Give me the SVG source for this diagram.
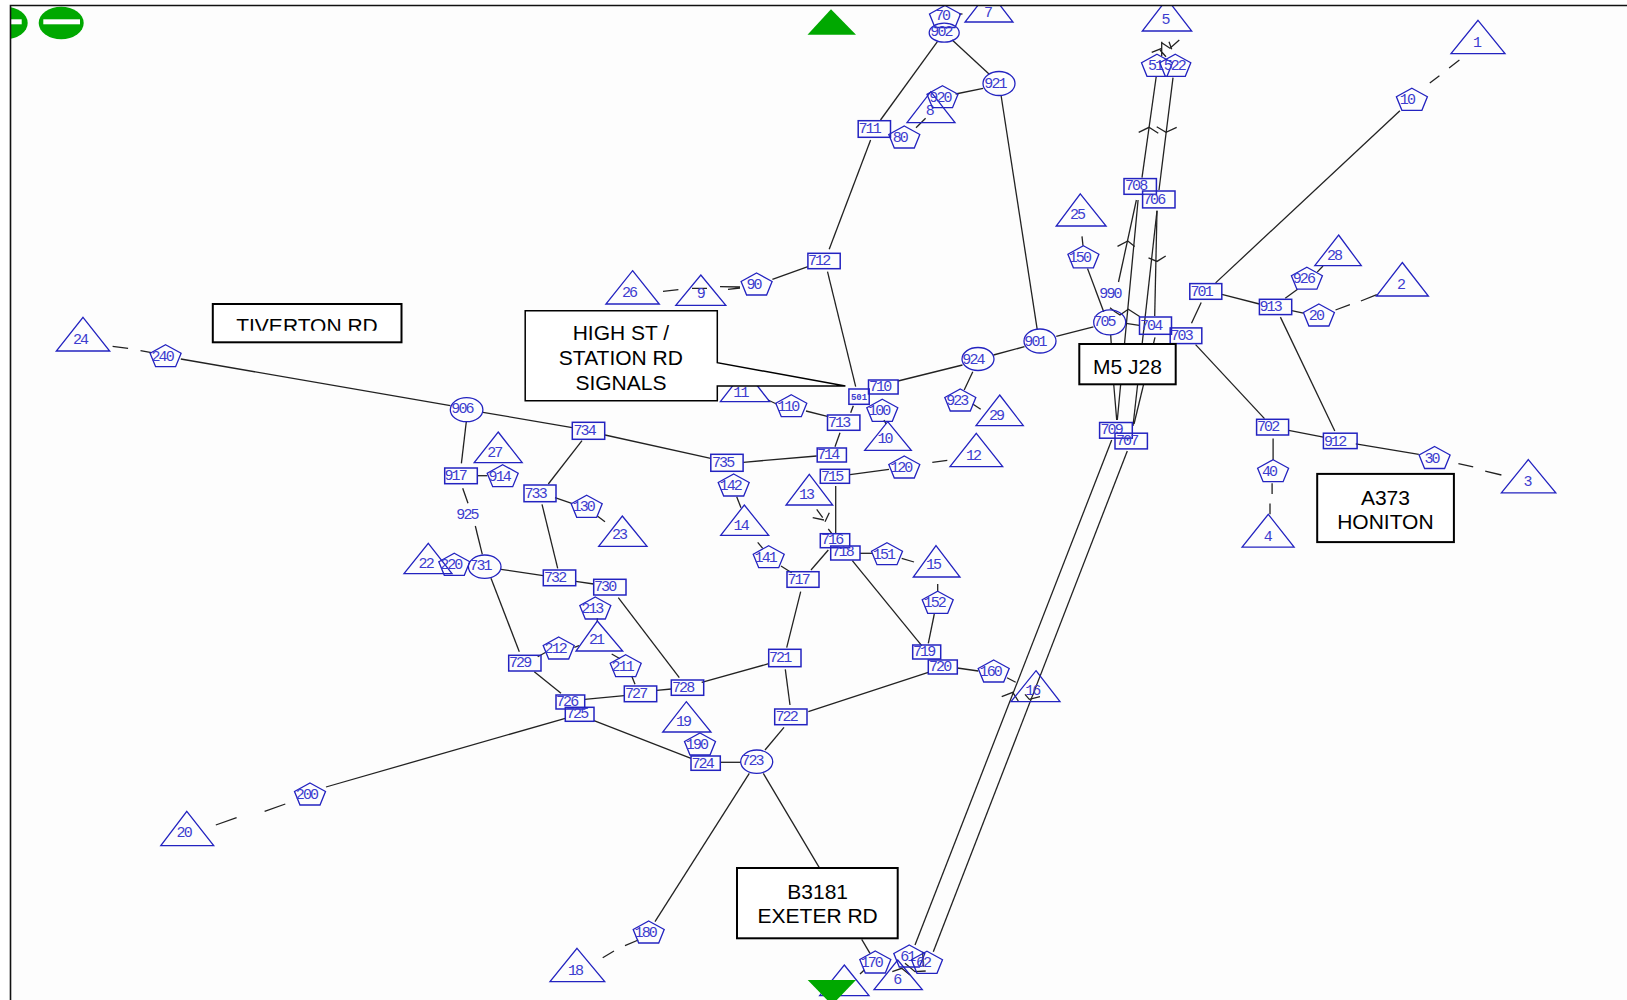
<svg xmlns="http://www.w3.org/2000/svg" width="1627" height="1000" viewBox="0 0 1627 1000">
<style>
.b{fill:none;stroke:#2323c0;stroke-width:1.5}
.t{fill:none;stroke:#2323c0;stroke-width:1.3}
.l{font-family:"Liberation Mono",monospace;font-size:15px;letter-spacing:-1.9px;fill:#3c3ccf}
.m{text-anchor:middle}
.k{font-family:"Liberation Sans",Arial,sans-serif;font-size:21px;fill:#000;text-anchor:middle}
.x{fill:#fff;stroke:#000;stroke-width:2}
.g{fill:#00a800}
</style>
<defs>
<polygon id="pent" class="t" points="0,-11 15.5,-2.5 10,11 -10,11 -15.5,-2.5"/>
<clipPath id="tivclip"><rect x="214" y="305" width="186" height="25.8"/></clipPath>
</defs>
<rect x="0" y="0" width="1627" height="1000" fill="#fff"/>
<rect x="10" y="5" width="1617" height="995" fill="#fdfdfd"/>
<g id="connectors" fill="none" stroke="#222" stroke-width="1.3">
<path d="M112.6 346.3L128.1 348.3M140.5 350.7L151.5 352.7"/>
<path d="M180.8 359L450.4 405.7"/>
<path d="M483 412.3L572.3 427.7"/>
<path d="M605 435L710.7 458.3"/>
<path d="M743.3 462.3L816.7 456"/>
<path d="M466.3 421.7L461.4 463.3"/>
<path d="M462.7 488.3L468 503.3"/>
<path d="M475.3 526L482.3 554.3"/>
<path d="M477.3 475.7L487.3 475.7"/>
<path d="M582 440.7L548.3 484"/>
<path d="M555 497.7L571.7 503.3"/>
<path d="M597.3 516L605 521.7"/>
<path d="M542 504.3L557.7 568.3"/>
<path d="M501 569.3L543.3 575.7"/>
<path d="M575.7 581.3L593.7 584"/>
<path d="M618.3 597.7L679.3 677.7"/>
<path d="M491 578.3L519.3 651.7"/>
<path d="M537.7 656.7L546.7 651.7"/>
<path d="M574.3 647.3L579 645.7"/>
<path d="M597.3 618.3L597.3 621.7"/>
<path d="M611.7 654L620 658.7"/>
<path d="M631.7 676L635 684.3"/>
<path d="M534.3 671.7L561 693.3"/>
<path d="M584.7 699.3L624.3 695.7"/>
<path d="M656.7 690.3L671.3 689"/>
<path d="M701.7 682.3L768.7 663.7"/>
<path d="M786.7 647.7L800.7 591.7"/>
<path d="M785.3 669.3L790 705"/>
<path d="M808.3 711.7L928.3 672.3"/>
<path d="M784 727.3L765 750"/>
<path d="M594 720.7L691 758.3"/>
<path d="M720.3 762.3L740.7 762.3"/>
<path d="M565.3 718.3L326 787"/>
<path d="M285.3 804L264.6 811.4M236.6 817.6L215.8 825"/>
<path d="M749.3 773.3L655 921.7"/>
<path d="M638.3 940L625 945.7M614 951L602.7 957.7"/>
<path d="M763.3 773.3L819.3 867.7"/>
<path d="M861.7 939.3L870 953.3"/>
<path d="M864.3 970L860 974"/>
<path d="M835.7 486L835.7 533.3"/>
<path d="M850 474.7L889 469.3"/>
<path d="M932.3 462.3L947.3 460.3"/>
<path d="M835 446.7L840 432.7"/>
<path d="M850.7 412.7L853.3 405.7"/>
<path d="M828.3 416.7L806 411"/>
<path d="M768 400L776.5 404"/>
<path d="M827.5 271.7L855.7 386.7"/>
<path d="M829.2 249.3L870.6 140"/>
<path d="M880.5 120L937.4 41.7"/>
<path d="M952.2 40L989 74"/>
<path d="M983.2 88.3L955.6 94"/>
<path d="M1001 95L1037.2 329.3"/>
<path d="M1056.2 336.4L1093.4 326.8"/>
<path d="M1024.5 346.7L993.5 355"/>
<path d="M962.5 365L898 381"/>
<path d="M972.8 371.7L964.2 390"/>
<path d="M972.7 404L980.7 409.3"/>
<path d="M884 420L886 424"/>
<path d="M916 127.7L925.6 118.3"/>
<path d="M772.4 279.3L807.9 266.7"/>
<path d="M663 291.3L678.4 289.7M692 288.3L707 288.3M720 286.7L740 287M728 289.3L740 288"/>
<path d="M736.7 496.7L741 507.7"/>
<path d="M757.7 542.3L762.7 548.3"/>
<path d="M781 566L791.7 572.7"/>
<path d="M811 570L828.3 550"/>
<path d="M860 553.3L872.3 553.3"/>
<path d="M901.7 558.3L914 562"/>
<path d="M937.7 584L937.7 591.7"/>
<path d="M934.3 614L928.3 643.3"/>
<path d="M852.3 560.7L921.7 645.7"/>
<path d="M957.3 668L978.3 671"/>
<path d="M1007 677.7L1015.7 682.3"/>
<path d="M816.7 509.3L822.7 517.7M829.3 512.7L825 521.7M812.7 517.7L824 520M828.3 529L831.7 533.3"/>
<path d="M1156.3 76L1142 177.7"/>
<path d="M1173 77.7L1159 190"/>
<path d="M1138.7 132.3L1149 127.3L1158.3 133.3M1156.7 126.7L1166 132.3L1176.7 127.3"/>
<path d="M1161.7 41.7L1161.7 56M1151.7 52.3L1161.7 48.3M1161.7 42.7L1170 48.3L1179.3 40M1169 41.7L1171.7 49.3M1160 50L1166 56.7"/>
<path d="M1138.1 200L1117.3 420"/>
<path d="M1136.4 200L1118.5 282"/>
<path d="M1117.5 246.4L1127.8 241L1134.7 246.4"/>
<path d="M1157 210.7L1133 426"/>
<path d="M1157 210.7L1154.7 316"/>
<path d="M1148.5 257.9L1157 261.4L1165.7 256"/>
<path d="M1155 337.3L1134 424"/>
<path d="M1110.7 335L1113.7 384L1116.7 420"/>
<path d="M1110 307.7L1115 311.7L1120 315L1128.3 309.3L1140 316.7"/>
<path d="M1126 323.3L1139.3 325.3"/>
<path d="M1111.7 440L915 945"/>
<path d="M1127.3 451L933.3 951.7"/>
<path d="M1001.7 696.7L1012.7 692.3L1018.3 701M1025 694.3L1029.3 699.3L1040 696.7"/>
<path d="M892.3 971.7L901.7 968.3L910 975M905 963.3L915 971.7L925.7 971M922.7 951.7L923.3 966.7"/>
<path d="M1215.6 282.9L1399.9 110.7"/>
<path d="M1429.8 82.9L1439.4 75.7M1449.1 67.9L1459.4 60"/>
<path d="M1201.2 302.5L1191.5 323.2"/>
<path d="M1221.8 294.3L1259.4 304"/>
<path d="M1285.2 298.2L1297.6 289.3"/>
<path d="M1317.2 272.1L1323 266"/>
<path d="M1291.7 310.7L1303.4 313.2"/>
<path d="M1335.5 310L1349.9 304.6M1360.9 301L1376.8 294.6"/>
<path d="M1280.4 317.1L1334.8 431"/>
<path d="M1195.6 344.6L1264.5 418.6"/>
<path d="M1288.6 430.4L1323.4 437.1"/>
<path d="M1355.8 443.9L1418.8 454.3"/>
<path d="M1458.4 463.6L1473.2 466.8M1485.2 471.1L1501.4 475"/>
<path d="M1273.1 438.6L1273.1 460"/>
<path d="M1272.1 483.2L1272.1 493.9M1270 503.6L1270 514.3"/>
<path d="M1082 236.4L1083 245.7"/>
<path d="M1087.5 268.6L1103.7 311.8"/>
<path d="M959 14L962.5 14"/>
</g>
<g id="t24"><polygon class="t" points="83,317.3 109.7,351 56.3,351"/><text class="l m" x="80" y="344">24</text></g>
<g id="t27"><polygon class="t" points="498.2,432 522.2,462.7 474.2,462.7"/><text class="l m" x="494.3" y="457">27</text></g>
<g id="t26"><polygon class="t" points="632.6,270.7 659.3,304 605.9,304"/><text class="l m" x="629" y="297">26</text></g>
<g id="t9"><polygon class="t" points="700.8,275 725.8,305.3 675.8,305.3"/><text class="l m" x="700.4" y="298">9</text></g>
<g id="t8"><polygon class="t" points="930.8,91.7 955,122.7 907,122.7"/><text class="l m" x="929.4" y="115">8</text></g>
<g id="t7"><polygon class="t" points="989,-9 1013,22 965,22"/><text class="l m" x="987.6" y="17">7</text></g>
<g id="t5"><polygon class="t" points="1167,-1 1191.7,31 1142.3,31"/><text class="l m" x="1165" y="24">5</text></g>
<g id="t1"><polygon class="t" points="1478,20.4 1505,53.6 1451,53.6"/><text class="l m" x="1476.6" y="47">1</text></g>
<g id="t2"><polygon class="t" points="1402.3,262.5 1428.4,296 1376.4,296"/><text class="l m" x="1400.5" y="289">2</text></g>
<g id="t3"><polygon class="t" points="1528.3,459.6 1555.8,492.9 1501.4,492.9"/><text class="l m" x="1527" y="486">3</text></g>
<g id="t4"><polygon class="t" points="1268.3,514.3 1294.1,547.1 1242.1,547.1"/><text class="l m" x="1267.3" y="541">4</text></g>
<g id="t28"><polygon class="t" points="1338.6,235 1361.3,265.7 1314.8,265.7"/><text class="l m" x="1334" y="260">28</text></g>
<g id="t25"><polygon class="t" points="1080.3,193.9 1106.1,226 1056.2,226"/><text class="l m" x="1077" y="219">25</text></g>
<g id="t29"><polygon class="t" points="999.7,395 1023.3,425.7 976,425.7"/><text class="l m" x="996" y="420">29</text></g>
<g id="t10"><polygon class="t" points="887.7,421.7 911.3,450.3 864.7,450.3"/><text class="l m" x="884.5" y="443">10</text></g>
<g id="t12"><polygon class="t" points="976.3,433.3 1002.7,466.7 950,466.7"/><text class="l m" x="973" y="460">12</text></g>
<g id="t13"><polygon class="t" points="809.3,474.3 832.7,505 786,505"/><text class="l m" x="806" y="499">13</text></g>
<g id="t14"><polygon class="t" points="744.3,505 768.7,535.3 720.7,535.3"/><text class="l m" x="740.7" y="530">14</text></g>
<g id="t15"><polygon class="t" points="936,545.7 960,577 913.3,577"/><text class="l m" x="933" y="569">15</text></g>
<g id="t16"><polygon class="t" points="1036,670.7 1060,701.7 1011,701.7"/><text class="l m" x="1032.3" y="695">16</text></g>
<g id="t11"><polygon class="t" points="745,370 769.7,401.7 720.4,401.7"/><text class="l m" x="740.4" y="397">11</text></g>
<g id="t19"><polygon class="t" points="686.3,701.7 711,732 662.7,732"/><text class="l m" x="683" y="726">19</text></g>
<g id="t21"><polygon class="t" points="597.3,621 622.7,651 576,651"/><text class="l m" x="596" y="644">21</text></g>
<g id="t22"><polygon class="t" points="428.3,543.3 452,573.7 404,573.7"/><text class="l m" x="425.7" y="568">22</text></g>
<g id="t23"><polygon class="t" points="622.3,516 647,546.3 598.7,546.3"/><text class="l m" x="619" y="539">23</text></g>
<g id="t18"><polygon class="t" points="577,948.3 604.7,981.7 550,981.7"/><text class="l m" x="575" y="975">18</text></g>
<g id="t20"><polygon class="t" points="186.8,811.4 213.7,845.6 160.8,845.6"/><text class="l m" x="183.7" y="837">20</text></g>
<g id="t6"><polygon class="t" points="897.7,960 922.3,989.7 874,989.7"/><text class="l m" x="896.7" y="984">6</text></g>
<g id="t17"><polygon class="t" points="844.3,965 869,995.7 819.7,995.7"/></g>
<g id="p240" transform="translate(165.6 355.7)"><use href="#pent"/><text class="l m" x="-3.5" y="5">240</text></g>
<g id="p914" transform="translate(502.7 475.7)"><use href="#pent"/><text class="l m" x="-3.5" y="5">914</text></g>
<g id="p130" transform="translate(586.7 506.3)"><use href="#pent"/><text class="l m" x="-3.5" y="5">130</text></g>
<g id="p220" transform="translate(454.3 564.3)"><use href="#pent"/><text class="l m" x="-3.5" y="5">220</text></g>
<g id="p213" transform="translate(595.3 608)"><use href="#pent"/><text class="l m" x="-3.5" y="5">213</text></g>
<g id="p212" transform="translate(558.7 648)"><use href="#pent"/><text class="l m" x="-3.5" y="5">212</text></g>
<g id="p211" transform="translate(625.7 665.7)"><use href="#pent"/><text class="l m" x="-3.5" y="5">211</text></g>
<g id="p190" transform="translate(700 744)"><use href="#pent"/><text class="l m" x="-3.5" y="5">190</text></g>
<g id="p142" transform="translate(733.7 485)"><use href="#pent"/><text class="l m" x="-3.5" y="5">142</text></g>
<g id="p141" transform="translate(768.7 556.7)"><use href="#pent"/><text class="l m" x="-3.5" y="5">141</text></g>
<g id="p151" transform="translate(887 553.7)"><use href="#pent"/><text class="l m" x="-3.5" y="5">151</text></g>
<g id="p152" transform="translate(937.7 602.3)"><use href="#pent"/><text class="l m" x="-3.5" y="5">152</text></g>
<g id="p160" transform="translate(993.7 671)"><use href="#pent"/><text class="l m" x="-3.5" y="5">160</text></g>
<g id="p120" transform="translate(904.3 467)"><use href="#pent"/><text class="l m" x="-3.5" y="5">120</text></g>
<g id="p110" transform="translate(791.3 405.7)"><use href="#pent"/><text class="l m" x="-3.5" y="5">110</text></g>
<g id="p100" transform="translate(882.3 410.3)"><use href="#pent"/><text class="l m" x="-3.5" y="5">100</text></g>
<g id="p923" transform="translate(960.3 400)"><use href="#pent"/><text class="l m" x="-3.5" y="5">923</text></g>
<g id="p180" transform="translate(648.7 932)"><use href="#pent"/><text class="l m" x="-3.5" y="5">180</text></g>
<g id="p170" transform="translate(875.3 962)"><use href="#pent"/><text class="l m" x="-4" y="5">170</text></g>
<g id="p61" transform="translate(909.3 956)"><use href="#pent"/><text class="l m" x="-2" y="5">61</text></g>
<g id="p62" transform="translate(927 962.3)"><use href="#pent"/><text class="l m" x="-4" y="5">62</text></g>
<g id="p70" transform="translate(945 16.5)"><use href="#pent"/><text class="l m" x="-3" y="3">70</text></g>
<g id="p920" transform="translate(942.5 96.7)"><use href="#pent"/><text class="l m" x="-2.5" y="5">920</text></g>
<g id="p80" transform="translate(904.3 137)"><use href="#pent"/><text class="l m" x="-4.5" y="5">80</text></g>
<g id="p90" transform="translate(756.6 284)"><use href="#pent"/><text class="l m" x="-3" y="5">90</text></g>
<g id="p51" transform="translate(1157 65.3)"><use href="#pent"/><text class="l m" x="-2" y="5">51</text></g>
<g id="p522" transform="translate(1175.3 65.3)"><use href="#pent"/><text class="l m" x="-1" y="5">522</text></g>
<g id="p10" transform="translate(1411.9 99.3)"><use href="#pent"/><text class="l m" x="-5" y="5">10</text></g>
<g id="p926" transform="translate(1306.9 278.2)"><use href="#pent"/><text class="l m" x="-3.5" y="5">926</text></g>
<g id="p20" transform="translate(1318.9 315)"><use href="#pent"/><text class="l m" x="-3" y="5">20</text></g>
<g id="p150" transform="translate(1083.4 256.8)"><use href="#pent"/><text class="l m" x="-4" y="5">150</text></g>
<g id="p30" transform="translate(1434.6 457.5)"><use href="#pent"/><text class="l m" x="-3" y="5">30</text></g>
<g id="p40" transform="translate(1273.1 470.7)"><use href="#pent"/><text class="l m" x="-4" y="5">40</text></g>
<g id="p200" transform="translate(310 794)"><use href="#pent"/><text class="l m" x="-3.5" y="5">200</text></g>
<g id="e906"><ellipse class="t" cx="466.6" cy="409.7" rx="16.3" ry="12"/><text class="l m" x="462" y="413">906</text></g>
<g id="e731"><ellipse class="t" cx="484.7" cy="566.7" rx="16.3" ry="11.7"/><text class="l m" x="480" y="570">731</text></g>
<g id="e723"><ellipse class="t" cx="756.7" cy="761.7" rx="16" ry="11.7"/><text class="l m" x="752" y="765">723</text></g>
<g id="e902"><ellipse class="t" cx="944.2" cy="32.7" rx="15" ry="9.5"/><text class="l m" x="941" y="36">902</text></g>
<g id="e921"><ellipse class="t" cx="999" cy="83.5" rx="16" ry="12"/><text class="l m" x="995" y="88">921</text></g>
<g id="e901"><ellipse class="t" cx="1040" cy="341" rx="16" ry="12"/><text class="l m" x="1035" y="346">901</text></g>
<g id="e924"><ellipse class="t" cx="978" cy="359" rx="16" ry="11.5"/><text class="l m" x="973" y="364">924</text></g>
<g id="e705"><ellipse class="t" cx="1109.7" cy="322.3" rx="16" ry="12.5"/><text class="l m" x="1104" y="326">705</text></g>
<g id="n990"><text class="l m" x="1110" y="298">990</text></g>
<g id="n925"><text class="l m" x="467" y="519">925</text></g>
<g id="r711"><rect class="b" x="858.2" y="120.7" width="32.3" height="16.6"/><text class="l" x="858.5" y="133">711</text></g>
<g id="r712"><rect class="b" x="807.9" y="253.3" width="32.3" height="15.4"/><text class="l" x="808" y="265">712</text></g>
<g id="r710"><rect class="b" x="868.5" y="380" width="29.6" height="14"/><text class="l" x="869" y="391">710</text></g>
<g id="r501"><rect class="b" x="848.9" y="389" width="20.3" height="15.3"/><text x="859" y="399.5" text-anchor="middle" font-family="Liberation Mono,monospace" font-size="9" font-weight="700" fill="#3c3ccf">501</text></g>
<g id="r713"><rect class="b" x="827.5" y="415" width="32.4" height="15.3"/><text class="l" x="828" y="427">713</text></g>
<g id="r714"><rect class="b" x="817.2" y="448" width="29.2" height="14"/><text class="l" x="817" y="459">714</text></g>
<g id="r715"><rect class="b" x="820.3" y="469.3" width="29.2" height="14"/><text class="l" x="821" y="480.5">715</text></g>
<g id="r734"><rect class="b" x="572.3" y="422.3" width="32.4" height="17"/><text class="l" x="573.5" y="435">734</text></g>
<g id="r735"><rect class="b" x="710.8" y="454.3" width="32.3" height="17"/><text class="l" x="712" y="467">735</text></g>
<g id="r733"><rect class="b" x="524" y="485" width="32" height="16.7"/><text class="l" x="524.5" y="498">733</text></g>
<g id="r917"><rect class="b" x="444.7" y="468" width="32.6" height="15.7"/><text class="l" x="444.5" y="480">917</text></g>
<g id="r732"><rect class="b" x="543.3" y="570" width="32.4" height="15.7"/><text class="l" x="544" y="582">732</text></g>
<g id="r730"><rect class="b" x="593.7" y="579.3" width="32.3" height="15.7"/><text class="l" x="594" y="591">730</text></g>
<g id="r729"><rect class="b" x="508.7" y="655.3" width="32.3" height="15.7"/><text class="l" x="509" y="667">729</text></g>
<g id="r726"><rect class="b" x="556" y="695" width="28.7" height="14"/><text class="l" x="556" y="705.5">726</text></g>
<g id="r725"><rect class="b" x="565.3" y="707.3" width="28.7" height="14"/><text class="l" x="566" y="718">725</text></g>
<g id="r727"><rect class="b" x="624.3" y="686" width="32.4" height="15.7"/><text class="l" x="625" y="698">727</text></g>
<g id="r728"><rect class="b" x="671.3" y="680" width="32.4" height="15.3"/><text class="l" x="672" y="692">728</text></g>
<g id="r721"><rect class="b" x="768.7" y="649.3" width="32.3" height="17.4"/><text class="l" x="769" y="662">721</text></g>
<g id="r722"><rect class="b" x="774.7" y="709" width="32.3" height="15.7"/><text class="l" x="775.5" y="721">722</text></g>
<g id="r724"><rect class="b" x="691" y="756" width="29.3" height="14.3"/><text class="l" x="691.5" y="767.5">724</text></g>
<g id="r717"><rect class="b" x="787" y="571.7" width="32" height="15.6"/><text class="l" x="787.5" y="584">717</text></g>
<g id="r716"><rect class="b" x="820.3" y="533.7" width="29.4" height="14"/><text class="l" x="821" y="544">716</text></g>
<g id="r718"><rect class="b" x="830.7" y="546" width="29.3" height="14"/><text class="l" x="831.5" y="556">718</text></g>
<g id="r719"><rect class="b" x="912.7" y="645" width="28" height="14"/><text class="l" x="913" y="656">719</text></g>
<g id="r720"><rect class="b" x="928.3" y="660" width="29" height="14"/><text class="l" x="929" y="670.5">720</text></g>
<g id="r708"><rect class="b" x="1124" y="178.6" width="32.4" height="15.7"/><text class="l" x="1125" y="190">708</text></g>
<g id="r706"><rect class="b" x="1142.6" y="191" width="32.4" height="16.9"/><text class="l" x="1143" y="204">706</text></g>
<g id="r704"><rect class="b" x="1139.5" y="317" width="32" height="17.3"/><text class="l" x="1140" y="330">704</text></g>
<g id="r703"><rect class="b" x="1170.2" y="327.9" width="31.6" height="15.7"/><text class="l" x="1170.5" y="340">703</text></g>
<g id="r701"><rect class="b" x="1189.8" y="283.6" width="32" height="15.7"/><text class="l" x="1190.5" y="296">701</text></g>
<g id="r913"><rect class="b" x="1259.4" y="299.3" width="32.3" height="15.3"/><text class="l" x="1259.5" y="311">913</text></g>
<g id="r709"><rect class="b" x="1099.6" y="422.5" width="32.7" height="15.7"/><text class="l" x="1100.5" y="434">709</text></g>
<g id="r707"><rect class="b" x="1115" y="433.2" width="32.4" height="15.7"/><text class="l" x="1116" y="445">707</text></g>
<g id="r702"><rect class="b" x="1256.6" y="419.3" width="32" height="15.7"/><text class="l" x="1257" y="431">702</text></g>
<g id="r912"><rect class="b" x="1323.4" y="433.2" width="33.7" height="15.4"/><text class="l" x="1324" y="446">912</text></g>
<g id="tiverton"><rect class="x" x="212.8" y="304" width="188.7" height="38.3"/><text class="k" x="307" y="333" clip-path="url(#tivclip)">TIVERTON RD</text></g>
<g id="highst"><polygon fill="#fff" stroke="#000" stroke-width="1.5" points="525.2,310.7 717.3,310.7 717.3,362.7 845.4,386 717.3,386 717.3,400.7 525.2,400.7"/><text class="k" x="620.9" y="340.3">HIGH ST /</text><text class="k" x="620.9" y="365">STATION RD</text><text class="k" x="620.9" y="389.5">SIGNALS</text></g>
<g id="m5j28"><rect class="x" x="1079.3" y="344" width="96.4" height="40.3"/><text class="k" x="1127.5" y="374">M5 J28</text></g>
<g id="a373"><rect class="x" x="1317.2" y="473.9" width="136.7" height="68.2"/><text class="k" x="1385.4" y="505">A373</text><text class="k" x="1385.4" y="529">HONITON</text></g>
<g id="b3181"><rect class="x" x="737" y="868" width="160.7" height="70.3"/><text class="k" x="817.7" y="899">B3181</text><text class="k" x="817.7" y="923.2">EXETER RD</text></g>
<g id="greens">
<polygon class="g" points="831,9.3 856,34.7 807.5,34.7"/>
<polygon class="g" points="807.7,980 856,980 832,1005"/>
<ellipse class="g" cx="61.2" cy="23" rx="22.5" ry="16.3"/><rect x="43.3" y="19.3" width="36.7" height="5" fill="#fff"/>
<ellipse class="g" cx="5.2" cy="23" rx="22.5" ry="16.3"/><rect x="-12" y="19.3" width="33.7" height="5" fill="#fff"/>
</g>
<rect x="0" y="0" width="1627" height="5" fill="#fff"/>
<rect x="0" y="0" width="10" height="1000" fill="#fff"/>
<path id="frame" d="M10.5 1000V5.5H1627" fill="none" stroke="#111" stroke-width="1.6"/>
</svg>
